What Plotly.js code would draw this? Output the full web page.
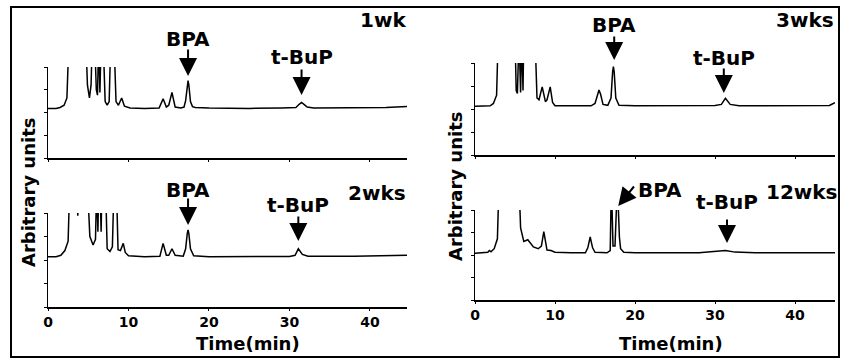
<!DOCTYPE html>
<html>
<head>
<meta charset="utf-8">
<script src="https://cdn.plot.ly/plotly-3.0.1.min.js"></script>
<style>html,body{margin:0;padding:0;background:#fff;}#chart{width:844px;height:360px;}</style>
</head>
<body>
<div id="chart"></div>
<script>
// ---- Data (time in min, signal in arbitrary units; values >100 are off-scale) ----
const wk1Time = [0,1.0,1.5,2.0,2.35,2.6,4.7,4.9,5.15,5.35,5.5,5.8,6.0,6.15,6.3,6.45,6.6,6.85,7.1,7.35,7.6,7.8,8.2,8.45,8.75,9.15,9.5,10.2,12.0,13.8,14.3,14.7,15.0,15.4,15.8,16.5,16.9,17.1,17.3,17.4,17.5,17.7,17.95,18.3,20,25,29,30.8,31.2,31.5,31.8,32.2,33,38,42,44.7];
const wk1Sig  = [54.5,54.5,55.5,58,66,130,130,80,66,80,130,130,75,69,130,72,130,130,62,58,62,130,130,62,58,66,57,55,54.5,55,65,56,58,72,56,55,56,63,80,85,80,62,56.5,55.5,55,54.5,55,55.5,59,61,59,56,55,55.2,55.5,56.5];

const wk2Time = [0,1.0,1.6,2.1,2.5,2.7,3.6,3.7,3.8,4.9,5.2,5.6,5.9,6.05,6.2,6.3,6.45,6.6,6.7,7.15,7.35,7.7,8.0,8.2,8.5,8.7,9.0,9.35,9.6,10.0,12,13.9,14.3,14.7,15.0,15.4,15.8,16.8,17.1,17.3,17.4,17.5,17.7,18.1,20,30,30.7,31.1,31.6,32.3,38,44.7];
const wk2Sig  = [53.5,53.5,55,60,70,130,130,97,130,130,75,66,72,130,80,130,130,80,130,130,62,59,64,130,130,61,60,67.7,58,54.5,53.5,54,67.7,55,55,62,55,54,62,78,82,78,62,54.5,53.5,53.8,55,62,56,54,54,55];

const wk3Time = [0,1.9,2.3,2.7,2.9,5.0,5.15,5.3,5.5,5.7,5.85,6.0,6.1,7.5,7.75,8.0,8.4,8.8,9.0,9.4,9.7,10.0,13.5,14.5,15.0,15.3,15.5,15.7,16.0,16.6,17.0,17.2,17.3,17.4,17.6,18.0,20,30,30.8,31.3,31.9,33,44.3,45];
const wk3Sig  = [53,53.5,56,65,130,130,70,67,130,68,130,70,130,130,62,60,74,58,60,74,57,53.5,53,53.5,56,66,70.6,66,55,54,62,90,96,90,62,54,53.5,53.8,55,61.6,55,53.5,53.8,57];

const wk12Time = [0,1.5,1.6,1.8,2.0,2.4,2.8,3.0,5.5,5.7,6.1,6.6,7.0,7.3,7.9,8.3,8.6,8.85,9.0,9.5,10.0,12,13.8,14.1,14.4,14.7,15.0,16.5,16.9,17.05,17.25,17.5,17.8,18.05,18.2,18.6,20,28,29.5,31.3,32.5,35,45];
const wk12Sig  = [52,52.5,53,55,53.5,57,68,130,130,80,65,67,62,59,57,60,76,60,55.5,55,53,52.5,52.5,58,70,58,53,52.5,55,130,60,60,130,70,57,53,52.5,52.5,53.5,55,53.2,52.5,52.5];

const panelLabels = ["1wk","2wks","3wks","12wks"];
const peakNames = ["BPA","t-BuP"];
const xTickVals = [0,10,20,30,40];
const axisTitleX = "Time(min)";
const axisTitleY = "Arbitrary units";

// ---- Layout helpers ----
const W = 844, H = 360;
const PX = p => p / W;
const PY = p => 1 - p / H;
const FONT = "DejaVu Sans";
const line = {color: "black", width: 1.5};

const traces = [
  {x: wk1Time, y: wk1Sig, xaxis: "x", yaxis: "y"},
  {x: wk2Time, y: wk2Sig, xaxis: "x2", yaxis: "y2"},
  {x: wk3Time, y: wk3Sig, xaxis: "x3", yaxis: "y3"},
  {x: wk12Time, y: wk12Sig, xaxis: "x4", yaxis: "y4"}
].map(t => Object.assign(t, {type: "scatter", mode: "lines", line: line, hoverinfo: "skip", showlegend: false}));

function xa(domain, range, anchor, labels) {
  return {domain: domain, range: range, anchor: anchor, showline: true, linecolor: "black", linewidth: 1.5,
    showgrid: false, zeroline: false, ticks: "outside", ticklen: 2, tickwidth: 1, tickcolor: "black",
    tickvals: xTickVals, showticklabels: labels,
    tickfont: {family: FONT, size: 14, color: "black", weight: "bold"}, fixedrange: true};
}
function ya(domain, anchor) {
  return {domain: domain, range: [0, 100], anchor: anchor, showline: true, linecolor: "black", linewidth: 1.5,
    showgrid: false, zeroline: false, ticks: "outside", ticklen: 3, tickwidth: 1, tickcolor: "black",
    dtick: 25, showticklabels: false, fixedrange: true};
}

const leftDom = [PX(48), PX(407)];
const rightDom = [PX(475), PX(835)];

const txtFont = (s) => ({family: FONT, size: s, color: "black", weight: "bold"});
const ann = [];
function arrow(xref, t, tipPy, tailDx, tailDy) {
  ann.push({xref: xref, x: t, yref: "paper", y: PY(tipPy), ax: tailDx, ay: tailDy, text: "",
    showarrow: true, arrowhead: 2, arrowsize: 1.8, arrowwidth: 2, arrowcolor: "black", standoff: 0});
}
function label(xref, x, py, text, size, xanchor) {
  ann.push({xref: xref, x: x, yref: "paper", y: PY(py), text: text, showarrow: false,
    xanchor: xanchor || "center", yanchor: "middle", font: txtFont(size)});
}
// 1wk
label("x", 17.4, 39, peakNames[0], 20); arrow("x", 17.4, 76, 0, -28);
label("x", 31.5, 57.5, peakNames[1], 20); arrow("x", 31.5, 95, 0, -27);
label("paper", PX(408), 20, panelLabels[0], 20, "right");
// 2wks
label("x2", 17.4, 190, peakNames[0], 20); arrow("x2", 17.4, 225, 0, -28);
label("x2", 31.1, 205, peakNames[1], 20); arrow("x2", 31.1, 241, 0, -26);
label("paper", PX(408), 193, panelLabels[1], 20, "right");
// 3wks
label("x3", 17.4, 25, peakNames[0], 20); arrow("x3", 17.4, 60, 0, -25);
label("x3", 31.1, 58, peakNames[1], 20); arrow("x3", 31.1, 93, 0, -26);
label("paper", PX(836), 20, panelLabels[2], 20, "right");
// 12wks
label("x4", 23.1, 190, peakNames[0], 20); arrow("x4", 17.9, 206, 17, -21);
label("x4", 31.5, 202, peakNames[1], 20); arrow("x4", 31.5, 243, 0, -25);
label("paper", PX(840), 192, panelLabels[3], 20, "right");
// axis titles
label("x2", 24.9, 343, axisTitleX, 18);
label("x4", 24.5, 343, axisTitleX, 18);
ann.push({xref: "paper", x: PX(28), yref: "paper", y: PY(193), text: axisTitleY, showarrow: false, textangle: -90,
  xanchor: "center", yanchor: "middle", font: txtFont(18)});
ann.push({xref: "paper", x: PX(455), yref: "paper", y: PY(187), text: axisTitleY, showarrow: false, textangle: -90,
  xanchor: "center", yanchor: "middle", font: txtFont(18)});

const layout = {
  width: W, height: H, margin: {l: 0, r: 0, t: 0, b: 0},
  paper_bgcolor: "white", plot_bgcolor: "rgba(0,0,0,0)",
  font: {family: FONT, color: "black"},
  showlegend: false,
  xaxis: xa(leftDom, [0, 44.6], "y", false),
  yaxis: ya([PY(158), PY(67)], "x"),
  xaxis2: xa(leftDom, [0, 44.6], "y2", true),
  yaxis2: ya([PY(307), PY(213)], "x2"),
  xaxis3: xa(rightDom, [0, 45], "y3", false),
  yaxis3: ya([PY(155), PY(63)], "x3"),
  xaxis4: xa(rightDom, [0, 45], "y4", true),
  yaxis4: ya([PY(300), PY(210)], "x4"),
  annotations: ann,
  shapes: [{type: "rect", xref: "paper", yref: "paper", x0: PX(11), x1: PX(839), y0: PY(357), y1: PY(7),
    line: {color: "black", width: 2}}]
};

Plotly.newPlot("chart", traces, layout, {staticPlot: true, displayModeBar: false});
</script>
</body>
</html>
